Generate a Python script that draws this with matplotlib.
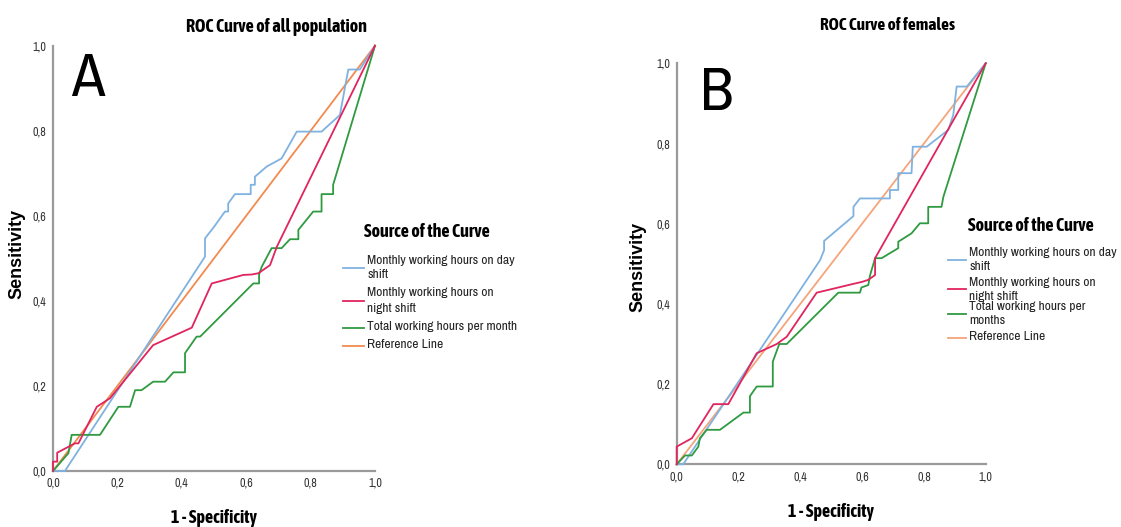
import matplotlib
matplotlib.use("Agg")
import matplotlib.pyplot as plt
from matplotlib.lines import Line2D

W, H = 1121, 527

# ---------------- data ----------------
tick_vals = [0.0, 0.2, 0.4, 0.6, 0.8, 1.0]
tick_labels = ["0,0", "0,2", "0,4", "0,6", "0,8", "1,0"]

series_names_a = ["Monthly working hours on day\nshift",
                  "Monthly working hours on\nnight shift",
                  "Total working hours per month",
                  "Reference Line"]
series_names_b = ["Monthly working hours on day\nshift",
                  "Monthly working hours on\nnight shift",
                  "Total working hours per\nmonths",
                  "Reference Line"]

# Panel A (all population)
a_day_x = [0, 0.037, 0.472, 0.472, 0.50, 0.534, 0.544, 0.544, 0.565, 0.614, 0.614, 0.627, 0.627,
           0.664, 0.710, 0.757, 0.834, 0.891, 0.917, 0.953, 1.0]
a_day_y = [0, 0, 0.504, 0.547, 0.574, 0.610, 0.610, 0.629, 0.651, 0.651, 0.673, 0.673, 0.692,
           0.716, 0.735, 0.798, 0.798, 0.837, 0.944, 0.944, 1.0]

a_night_x = [0, 0, 0.013, 0.013, 0.068, 0.079, 0.136, 0.177, 0.311, 0.431, 0.493, 0.591, 0.617,
             0.638, 0.653, 0.674, 0.695, 1.0]
a_night_y = [0, 0.022, 0.022, 0.043, 0.065, 0.065, 0.151, 0.171, 0.296, 0.337, 0.441, 0.461, 0.462,
             0.465, 0.473, 0.484, 0.527, 1.0]

a_total_x = [0, 0.048, 0.058, 0.146, 0.203, 0.239, 0.255, 0.275, 0.311, 0.348, 0.374, 0.410, 0.410,
             0.446, 0.457, 0.622, 0.640, 0.640, 0.648, 0.679, 0.710, 0.736, 0.762, 0.762, 0.808,
             0.834, 0.834, 0.870, 0.870, 1.0]
a_total_y = [0, 0.042, 0.085, 0.085, 0.151, 0.151, 0.190, 0.190, 0.210, 0.210, 0.232, 0.232, 0.277,
             0.316, 0.316, 0.441, 0.441, 0.462, 0.480, 0.524, 0.524, 0.545, 0.545, 0.567, 0.610,
             0.610, 0.651, 0.651, 0.673, 1.0]

# Panel B (females)
b_day_x = [0, 0.021, 0.464, 0.477, 0.477, 0.572, 0.572, 0.593, 0.690, 0.690, 0.717, 0.717, 0.760,
           0.764, 0.809, 0.879, 0.895, 0.906, 0.939, 1.0]
b_day_y = [0, 0, 0.509, 0.534, 0.557, 0.619, 0.642, 0.663, 0.663, 0.684, 0.684, 0.726, 0.726,
           0.792, 0.792, 0.834, 0.871, 0.942, 0.942, 1.0]

b_night_x = [0, 0, 0.049, 0.119, 0.167, 0.259, 0.324, 0.356, 0.453, 0.572, 0.600, 0.620, 0.642,
             0.642, 1.0]
b_night_y = [0, 0.044, 0.065, 0.150, 0.150, 0.277, 0.300, 0.318, 0.428, 0.450, 0.455, 0.460, 0.472,
             0.514, 1.0]

b_total_x = [0, 0.027, 0.049, 0.070, 0.075, 0.097, 0.140, 0.216, 0.237, 0.237, 0.259, 0.311, 0.311,
             0.332, 0.356, 0.523, 0.593, 0.598, 0.620, 0.626, 0.642, 0.663, 0.717, 0.717, 0.760,
             0.787, 0.814, 0.814, 0.857, 0.863, 1.0]
b_total_y = [0, 0.022, 0.022, 0.044, 0.065, 0.086, 0.086, 0.129, 0.129, 0.170, 0.194, 0.194, 0.256,
             0.300, 0.300, 0.428, 0.428, 0.441, 0.447, 0.472, 0.514, 0.514, 0.539, 0.555, 0.576,
             0.601, 0.601, 0.642, 0.642, 0.667, 1.0]

ref_x = [0, 1]
ref_y = [0, 1]

# ---------------- style ----------------
C_DAY = "#7fb2e0"
C_NIGHT = "#e0245e"
C_TOTAL = "#2f9a40"
C_REF = "#f28a50"
C_REF_B = "#f5a47c"

NARROW = ["Archivo Narrow", "Liberation Sans", "DejaVu Sans"]
BOLDN = ["Asap Condensed", "Archivo Narrow", "Liberation Sans", "DejaVu Sans"]
WIDE = ["Liberation Sans", "DejaVu Sans"]
plt.rcParams['font.family'] = NARROW


def fx(px):
    return px / W


def fy(py):
    return 1 - py / H


fig = plt.figure(figsize=(W / 100, H / 100), dpi=100)
fig.patch.set_facecolor("white")


def make_axes(l, r, t, b):
    ax = fig.add_axes([fx(l), fy(b), fx(r) - fx(l), fy(t) - fy(b)])
    ax.set_xlim(0, 1)
    ax.set_ylim(0, 1)
    for s in ["top", "right"]:
        ax.spines[s].set_visible(False)
    for s in ["left", "bottom"]:
        ax.spines[s].set_color("#9a9a9a")
        ax.spines[s].set_linewidth(1.6)
    ax.set_xticks(tick_vals)
    ax.set_xticklabels(tick_labels)
    ax.set_yticks(tick_vals)
    ax.set_yticklabels(tick_labels)
    ax.tick_params(length=0, labelsize=8.7, labelcolor="#333333", pad=5)
    return ax


def draw(ax, day, night, total, names, refc, leg):
    colors = [C_DAY, C_NIGHT, C_TOTAL, refc]
    ax.plot(*day, color=colors[0], lw=1.3, clip_on=False, zorder=3)
    ax.plot(*night, color=colors[1], lw=1.3, clip_on=False, zorder=4)
    ax.plot(*total, color=colors[2], lw=1.3, clip_on=False, zorder=3)
    ax.plot(ref_x, ref_y, color=colors[3], lw=1.3, clip_on=False, zorder=2)
    # legend drawn as text + handle lines (SPSS style)
    tx, ty = leg["title"]
    fig.text(fx(tx), fy(ty), "Source of the Curve", ha="left", va="center",
             fontsize=13, fontweight="bold", family=BOLDN)
    h0, h1 = leg["handle_x"]
    for name, col, y0 in zip(names, colors, leg["rows"]):
        lines = name.split("\n")
        for k, line in enumerate(lines):
            fig.text(fx(leg["text_x"]), fy(y0 + k * leg["pitch"]), line, ha="left",
                     va="center", fontsize=9.7, color="#222222")
        yc = y0 + (len(lines) - 1) * leg["pitch"] / 2 + (1 if len(lines) == 1 else 0)
        fig.add_artist(Line2D([fx(h0), fx(h1)], [fy(yc), fy(yc)], color=col, lw=1.3,
                              transform=fig.transFigure))


# Panel A
axA = make_axes(53, 375, 45.7, 471)
draw(axA, (a_day_x, a_day_y), (a_night_x, a_night_y), (a_total_x, a_total_y),
     series_names_a, C_REF,
     dict(title=(364, 232), handle_x=(343, 364), text_x=367,
          rows=[260, 293, 327, 345], pitch=15))
fig.text(fx(276), fy(27), "ROC Curve of all population", ha="center", va="center",
         fontsize=13, fontweight="bold", family=BOLDN)
fig.text(fx(17), fy(254), "Sensitivity", ha="center", va="center", rotation=90,
         fontsize=13, fontweight="bold", family=WIDE)
fig.text(fx(214), fy(518), "1 - Specificity", ha="center", va="center",
         fontsize=13, fontweight="bold", family=BOLDN)
fig.text(fx(88), fy(79), "A", ha="center", va="center", fontsize=44)

# Panel B
axB = make_axes(676.7, 985.7, 63.3, 464.3)
draw(axB, (b_day_x, b_day_y), (b_night_x, b_night_y), (b_total_x, b_total_y),
     series_names_b, C_REF_B,
     dict(title=(968, 226), handle_x=(948, 966), text_x=969,
          rows=[253, 282, 307, 337], pitch=14))
fig.text(fx(888), fy(25), "ROC Curve of females", ha="center", va="center",
         fontsize=12.5, fontweight="bold", family=BOLDN)
fig.text(fx(638), fy(267), "Sensitivity", ha="center", va="center", rotation=90,
         fontsize=13, fontweight="bold", family=WIDE)
fig.text(fx(831), fy(512), "1 - Specificity", ha="center", va="center",
         fontsize=13, fontweight="bold", family=BOLDN)
fig.text(fx(717), fy(94), "B", ha="center", va="center", fontsize=44)

fig.savefig("out.png", dpi=100)
